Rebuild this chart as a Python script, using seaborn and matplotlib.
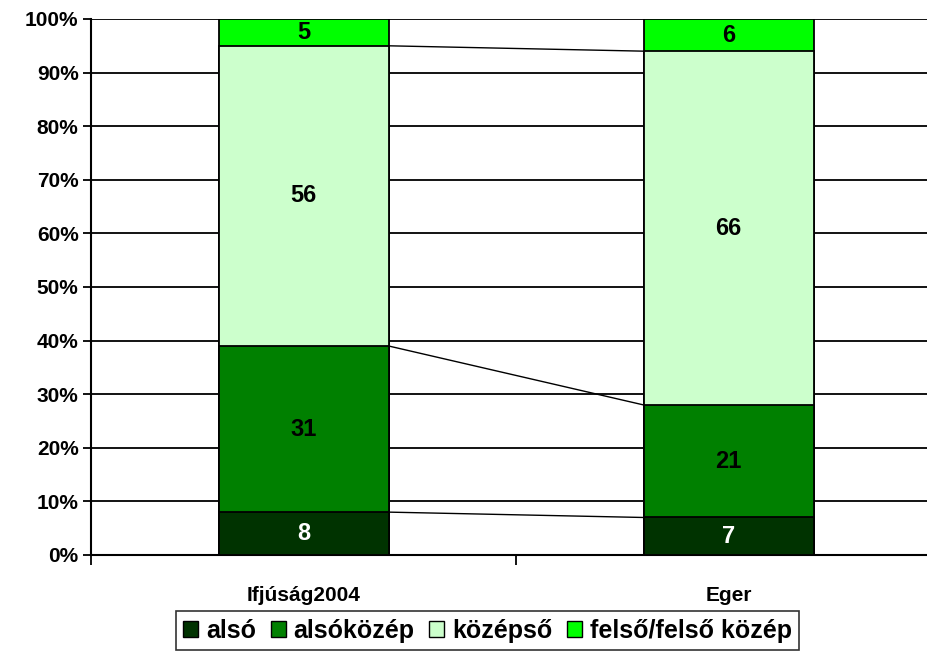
import numpy as np
import pandas as pd
import matplotlib
matplotlib.use("Agg")
import matplotlib.pyplot as plt
import seaborn as sns
from matplotlib.patches import Patch

# data
categories = ["Ifjúság2004", "Eger"]
series = ["alsó", "alsóközép", "középső", "felső/felső közép"]
also = [8, 7]
alsokozep = [31, 21]
kozepso = [56, 66]
felso = [5, 6]
colors = ["#003300", "#008000", "#CCFFCC", "#00FF00"]
label_colors = ["white", "black", "black", "black"]

sns.set_theme(style="white")
plt.rcParams["font.family"] = ["Liberation Sans", "DejaVu Sans"]
plt.rcParams["font.weight"] = "bold"
plt.rcParams["text.color"] = "black"
plt.rcParams["xtick.color"] = "black"
plt.rcParams["ytick.color"] = "black"

vals = np.array([also, alsokozep, kozepso, felso], dtype=float)
cum = vals.cumsum(axis=0)

fig = plt.figure(figsize=(9.27, 6.54), dpi=100)
ax = fig.add_axes([91 / 927, 99 / 654, 850 / 927, 536 / 654])

# stacked bars: draw cumulative totals from the top down
for i in range(len(series) - 1, -1, -1):
    df = pd.DataFrame({"cat": categories, "val": cum[i]})
    sns.barplot(data=df, x="cat", y="val", color=colors[i], width=0.4,
                edgecolor="black", linewidth=1.3, saturation=1, ax=ax, zorder=3)

# segment labels
for i in range(len(series)):
    for j in range(len(categories)):
        mid = cum[i, j] - vals[i, j] / 2
        ax.text(j, mid, f"{vals[i, j]:.0f}", ha="center", va="center",
                fontsize=17, fontweight="bold", color=label_colors[i], zorder=5)

# series lines between the bars
for i in range(len(series) - 1):
    ax.plot([0.2, 0.8], [cum[i, 0], cum[i, 1]], color="black", lw=1, zorder=4)

ax.set_xlim(-0.5, 1.5)
ax.set_ylim(0, 100)
ax.set_yticks(np.arange(0, 101, 10))
ax.set_yticklabels([f"{t}%" for t in range(0, 101, 10)])
for t in range(10, 101, 10):
    ax.axhline(t, color="black", lw=1.3, zorder=1)

ax.set_xticks([0, 1])
ax.set_xticklabels(categories)
ax.set_xticks([-0.5, 0.5, 1.5], minor=True)
ax.tick_params(axis="x", which="major", bottom=False, length=0, pad=22, labelsize=15)
ax.tick_params(axis="x", which="minor", bottom=True, length=7, width=1.3, direction="out", color="black")
ax.tick_params(axis="y", left=True, length=6, width=1.3, direction="out", color="black", labelsize=15, pad=3)
for lab in ax.get_xticklabels() + ax.get_yticklabels():
    lab.set_fontweight("bold")
    lab.set_color("black")

ax.set_xlabel("")
ax.set_ylabel("")
for s in ["top", "right"]:
    ax.spines[s].set_visible(False)
for s in ["left", "bottom"]:
    ax.spines[s].set_color("black")
    ax.spines[s].set_linewidth(1.5)

handles = [Patch(facecolor=c, edgecolor="black", label=s) for c, s in zip(colors, series)]
leg = fig.legend(handles=handles, loc="lower center", bbox_to_anchor=(0.526, -0.013),
                 ncol=4, frameon=True, fancybox=False, edgecolor="black",
                 prop={"size": 18, "weight": "bold"}, handlelength=0.6, handleheight=0.6,
                 handletextpad=0.3, columnspacing=0.6, borderpad=0.3)
leg.get_frame().set_linewidth(1.2)
for t in leg.get_texts():
    t.set_color("black")

fig.savefig("out.png", dpi=100)
